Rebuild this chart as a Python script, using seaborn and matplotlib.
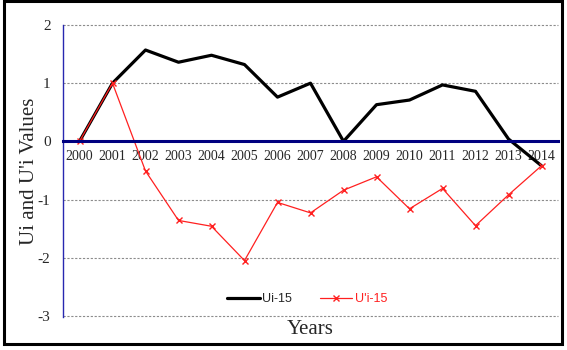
import numpy as np
import pandas as pd
import matplotlib
matplotlib.use("Agg")
import matplotlib.pyplot as plt
import seaborn as sns
from matplotlib.patches import Rectangle

years = [str(y) for y in range(2000, 2015)]
ui_15 = [0.0, 1.0, 1.57, 1.36, 1.48, 1.32, 0.76, 1.0, 0.0, 0.63, 0.71, 0.97, 0.86, 0.04, -0.42]
u_prime_i_15 = [0.0, 1.0, -0.51, -1.36, -1.46, -2.05, -1.05, -1.23, -0.84, -0.61, -1.16, -0.81, -1.45, -0.92, -0.42]
y_ticks = [-3, -2, -1, 0, 1, 2]

df = pd.DataFrame({"Year": years, "Ui-15": ui_15, "U'i-15": u_prime_i_15})

sns.set_style("white")
plt.rcParams["font.family"] = ["Liberation Serif", "DejaVu Serif"]

fig = plt.figure(figsize=(5.67, 3.5), dpi=100)
ax = fig.add_axes([63/567, 1-317/350, (558-63)/567, (317-25)/350])

navy = "#000080"
sns.lineplot(data=df, x="Year", y="Ui-15", ax=ax, color="black", lw=2.3,
             label="Ui-15", sort=False)
sns.lineplot(data=df, x="Year", y="U'i-15", ax=ax, color="#FF2020", lw=0.9,
             marker="x", markersize=5, markeredgewidth=1.0, markeredgecolor="#FF2020",
             label="U'i-15", sort=False)

n = len(years)
ax.set_xlim(-0.5, n - 0.5)
ax.set_ylim(-3.02, 2)
ax.set_yticks(y_ticks)
ax.set_yticklabels([str(t) for t in y_ticks], fontsize=11)
for t in y_ticks:
    if t != 0:
        ax.axhline(t, color="#8c8c8c", lw=0.8, ls=(0, (2, 1.5)), zorder=0, clip_on=False)

ax.set_xticks(range(n))
ax.set_xticklabels(years, fontsize=9)
ax.tick_params(axis="x", length=0, pad=6)
ax.set_xticks(np.arange(n + 1) - 0.5, minor=True)
ax.tick_params(axis="x", which="minor", length=3, width=1.6, color=navy, direction="out")
ax.tick_params(axis="y", length=4, width=1, color=navy, direction="out", pad=5)

for s in ["top", "right"]:
    ax.spines[s].set_visible(False)
ax.spines["bottom"].set_position(("data", 0))
ax.spines["bottom"].set_color(navy)
ax.spines["bottom"].set_linewidth(2.2)
ax.spines["left"].set_color("#2828B0")
ax.spines["left"].set_linewidth(1.0)

ax.set_xlabel("")
ax.set_ylabel("Ui and U'i Values", fontsize=15, labelpad=-1)

leg = ax.legend(loc="center", bbox_to_anchor=(0.493, 0.062), ncol=2, frameon=False,
                prop={"family": "Liberation Sans", "size": 9}, handlelength=2.6,
                columnspacing=2.2, handletextpad=0.2)
leg.get_texts()[1].set_color("#FF2020")

fig.text(310/567, 1-330/350, "Years", ha="center", va="center", fontsize=15)

fig.patches.append(Rectangle((4/567, 6/350), 558/567, 343/350, transform=fig.transFigure,
                             fill=False, edgecolor="black", lw=2.2))

fig.savefig("out.png", dpi=100)
